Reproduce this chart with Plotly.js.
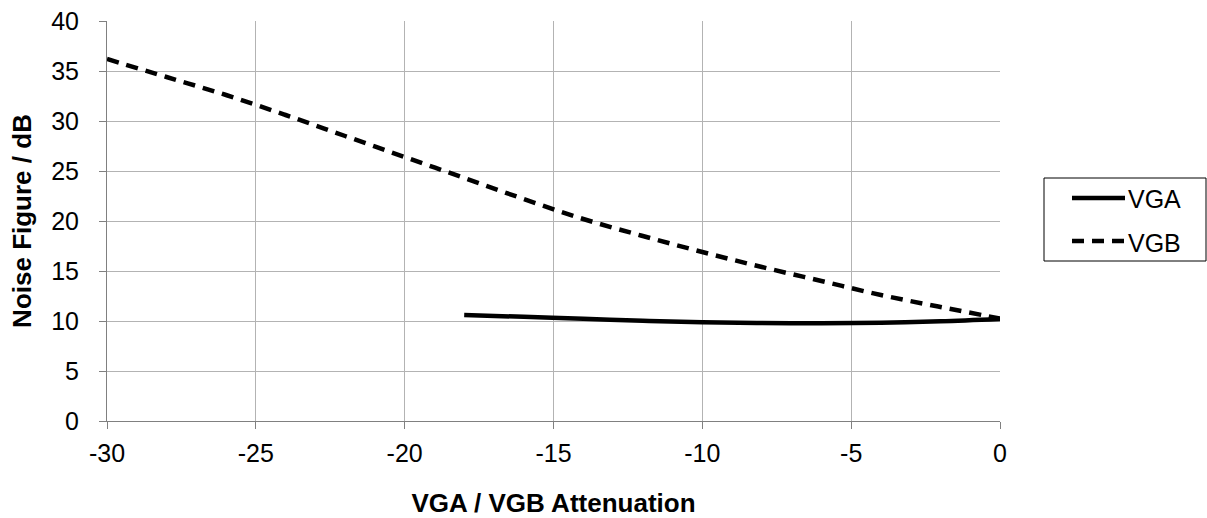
<!DOCTYPE html>
<html>
<head>
<meta charset="utf-8">
<script src="https://cdn.plot.ly/plotly-3.0.1.min.js"></script>
<style>html,body{margin:0;padding:0;background:#fff;}#chart{width:1207px;height:518px;}</style>
</head>
<body>
<div id="chart"></div>
<script>
const seriesNames = ["VGA", "VGB"];
const xVGA = [-18, -16, -14, -12, -10, -8, -6, -4, -2, 0];
const yVGA = [10.6, 10.42, 10.22, 10.03, 9.88, 9.8, 9.78, 9.82, 9.97, 10.2];
const xVGB = [-30, -28, -26, -24, -22, -20, -18, -16, -14, -12, -10, -8, -6, -4, -2, 0];
const yVGB = [36.2, 34.4, 32.6, 30.6, 28.5, 26.4, 24.3, 22.2, 20.2, 18.5, 16.9, 15.4, 14.0, 12.6, 11.4, 10.25];
const xTicks = [-30, -25, -20, -15, -10, -5, 0];
const yTicks = [0, 5, 10, 15, 20, 25, 30, 35, 40];
const xTitle = "VGA / VGB Attenuation";
const yTitle = "Noise Figure / dB";

const FONT = "Liberation Sans, Arial, sans-serif";
const VGB_DASH = "12px,8px";

const traces = [
  {x: xVGA, y: yVGA, name: seriesNames[0], mode: "lines", showlegend: false,
   line: {color: "#000", width: 4.5, shape: "spline"}},
  {x: xVGB, y: yVGB, name: seriesNames[1], mode: "lines", showlegend: false,
   line: {color: "#000", width: 4.5, dash: VGB_DASH, shape: "spline"}}
];

// legend box drawn in paper coordinates (plot area: 893 x 400 px)
const px2x = p => (p - 107) / 893;
const px2y = p => (421 - p) / 400;
const legendLineRows = [198, 241];
const legendTextRows = [199, 243];
const shapes = [
  {type: "rect", xref: "paper", yref: "paper",
   x0: px2x(1044), x1: px2x(1206), y0: px2y(261), y1: px2y(178),
   line: {color: "#000", width: 1}, fillcolor: "#fff", layer: "above"}
];
const annotations = [];
seriesNames.forEach((n, i) => {
  shapes.push({type: "line", xref: "paper", yref: "paper",
    x0: px2x(1072), x1: px2x(1125), y0: px2y(legendLineRows[i]), y1: px2y(legendLineRows[i]),
    line: {color: "#000", width: 4.5, dash: i === 0 ? "solid" : VGB_DASH}, layer: "above"});
  annotations.push({xref: "paper", yref: "paper", x: px2x(1126), y: px2y(legendTextRows[i]),
    xanchor: "left", yanchor: "middle", text: n, showarrow: false,
    font: {family: FONT, size: 25, color: "#000"}});
});

const layout = {
  width: 1207, height: 518,
  margin: {l: 107, r: 207, t: 21, b: 97},
  paper_bgcolor: "#fff", plot_bgcolor: "#fff",
  font: {family: FONT, size: 25, color: "#000"},
  showlegend: false,
  shapes: shapes,
  annotations: annotations,
  xaxis: {range: [-30, 0], tickvals: xTicks, ticktext: xTicks.map(String),
          showgrid: true, gridcolor: "#b3b3b3", gridwidth: 1,
          showline: true, linecolor: "#808080", linewidth: 1,
          ticks: "outside", ticklen: 7, tickcolor: "#808080",
          ticklabelstandoff: 3,
          zeroline: false, tickfont: {family: FONT, size: 25},
          title: {text: "<b>" + xTitle + "</b>", font: {family: FONT, size: 26}, standoff: 35}},
  yaxis: {range: [0, 40], tickvals: yTicks, ticktext: yTicks.map(String),
          showgrid: true, gridcolor: "#b3b3b3", gridwidth: 1,
          showline: true, linecolor: "#808080", linewidth: 1,
          ticks: "outside", ticklen: 7, tickcolor: "#808080",
          ticklabelstandoff: 15,
          zeroline: false, tickfont: {family: FONT, size: 25},
          title: {text: "<b>" + yTitle + "</b>", font: {family: FONT, size: 26}, standoff: 12}}
};

Plotly.newPlot("chart", traces, layout, {displayModeBar: false, staticPlot: true});
</script>
</body>
</html>
